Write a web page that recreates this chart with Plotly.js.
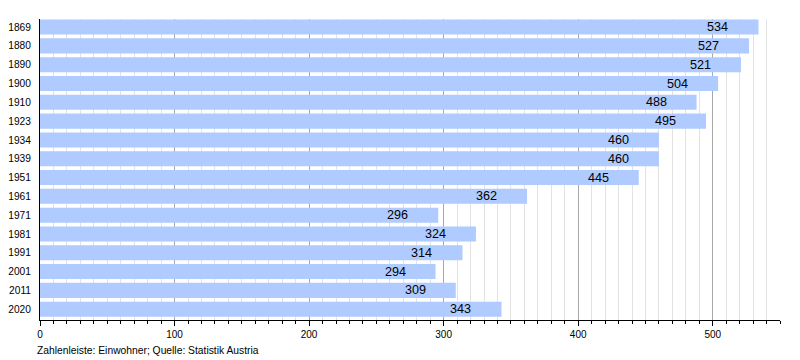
<!DOCTYPE html>
<html><head><meta charset="utf-8">
<script src="https://cdn.plot.ly/plotly-3.0.1.min.js"></script>
<style>html,body{margin:0;padding:0;background:#fff}#chart{width:800px;height:360px}</style>
</head><body><div id="chart"></div>
<script>
const years = ["1869","1880","1890","1900","1910","1923","1934","1939","1951","1961","1971","1981","1991","2001","2011","2020"];
const population = [534,527,521,504,488,495,460,460,445,362,296,324,314,294,309,343];
const xTicks = [0,100,200,300,400,500];
const footer = "Zahlenleiste: Einwohner; Quelle: Statistik Austria";

const FONT = "Liberation Sans, Arial, sans-serif";

const trace = {
  type: 'bar', orientation: 'h',
  x: population, y: years,
  marker: {color: '#b0cbff', line: {width: 0}},
  width: 0.8,
  hoverinfo: 'x+y'
};

const annotations = years.map((yr, i) => ({
  x: population[i], y: i, xref: 'x', yref: 'y',
  text: String(population[i]), showarrow: false,
  xanchor: 'right', yanchor: 'middle', xshift: -28,
  font: {family: FONT, size: 12.6, color: '#000'}
}));
annotations.push({
  xref: 'paper', yref: 'paper', x: -0.007, y: -0.077,
  xanchor: 'left', yanchor: 'top', showarrow: false,
  text: footer, font: {family: FONT, size: 10.3, color: '#000'}
});

const layout = {
  width: 800, height: 360,
  margin: {l: 40, r: 20, t: 19.4, b: 40},
  paper_bgcolor: '#fff', plot_bgcolor: '#fff',
  font: {family: FONT, size: 10, color: '#000'},
  showlegend: false,
  bargap: 0.2,
  xaxis: {
    range: [0, 550], tickvals: xTicks, ticktext: xTicks.map(String),
    showgrid: true, gridcolor: '#a8a8a8', gridwidth: 1,
    showline: true, linecolor: '#000', linewidth: 1,
    ticks: 'outside', ticklen: 5, tickcolor: '#000', tickwidth: 1,
    minor: {dtick: 10, tick0: 0, ticks: 'outside', ticklen: 3, tickcolor: '#000', showgrid: true, gridcolor: '#e2e2e2', gridwidth: 1},
    zeroline: false, tickfont: {family: FONT, size: 10, color: '#000'},
    fixedrange: true
  },
  yaxis: {
    type: 'category', range: [15.575, -0.43],
    showgrid: false, zeroline: false,
    showline: true, linecolor: '#000', linewidth: 1,
    ticks: 'outside', ticklen: 6, tickcolor: 'rgba(0,0,0,0)',
    tickfont: {family: FONT, size: 10.2, color: '#000'},
    fixedrange: true
  },
  annotations: annotations
};

Plotly.newPlot('chart', [trace], layout, {displayModeBar: false, staticPlot: true});
</script></body></html>
